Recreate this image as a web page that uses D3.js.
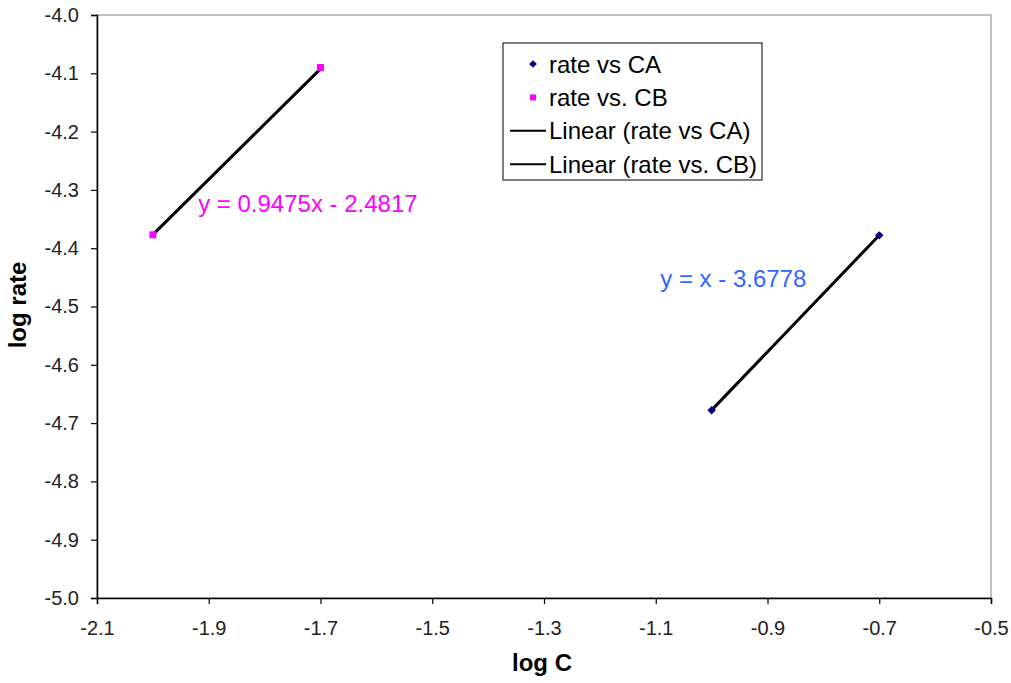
<!DOCTYPE html>
<html>
<head>
<meta charset="utf-8">
<script src="https://cdn.jsdelivr.net/npm/d3@7"></script>
<style>
  body { margin: 0; background: #fff; }
  svg { font-family: 'Liberation Sans', Arial, sans-serif; }
</style>
</head>
<body>
<div id="chart"></div>
<script>
// log C / log rate data
const caX = [-1.0, -0.7];
const caY = [-4.678, -4.378];
const cbX = [-2.0, -1.7];
const cbY = [-4.377, -4.09];

// trendline coefficients shown on the chart
const caFit = { slope: 1, intercept: -3.6778, label: 'y = x - 3.6778' };
const cbFit = { slope: 0.9475, intercept: -2.4817, label: 'y = 0.9475x - 2.4817' };

const xTicks = [-2.1, -1.9, -1.7, -1.5, -1.3, -1.1, -0.9, -0.7, -0.5];
const yTicks = [-5.0, -4.9, -4.8, -4.7, -4.6, -4.5, -4.4, -4.3, -4.2, -4.1, -4.0];

const legendItems = ['rate vs CA', 'rate vs. CB', 'Linear (rate vs CA)', 'Linear (rate vs. CB)'];

const totalWidth = 1011;
const totalHeight = 683;
const margin = { top: 15, right: 20, bottom: 85, left: 97 };
const width = totalWidth - margin.left - margin.right;
const height = totalHeight - margin.top - margin.bottom;

const xScale = d3.scaleLinear().domain([-2.1, -0.5]).range([0, width]);
const yScale = d3.scaleLinear().domain([-5.0, -4.0]).range([height, 0]);

const fmt = (d) => d3.format('.1f')(d).replace('−', '-');

const svg = d3
  .select('#chart')
  .append('svg')
  .attr('width', totalWidth)
  .attr('height', totalHeight)
  .append('g')
  .attr('transform', `translate(${margin.left}, ${margin.top})`);

// plot area border (top and right in gray)
svg
  .append('rect')
  .attr('x', 0)
  .attr('y', 0)
  .attr('width', width)
  .attr('height', height)
  .attr('fill', 'none')
  .attr('stroke', '#808080')
  .attr('stroke-width', 1);

// x axis
svg
  .append('g')
  .attr('transform', `translate(0, ${height})`)
  .call(d3.axisBottom(xScale).tickValues(xTicks).tickSizeOuter(0).tickSize(6))
  .call((g) => g.select('.domain').attr('stroke-width', 1.5))
  .call((g) => g.selectAll('.tick line').attr('stroke-width', 1.2))
  .call((g) =>
    g
      .selectAll('.tick text')
      .attr('font-size', 20)
      .attr('fill', '#222')
      .attr('y', 30)
      .attr('dy', '0.35em')
      .text(fmt)
  );

// y axis
svg
  .append('g')
  .call(d3.axisLeft(yScale).tickValues(yTicks).tickSizeOuter(0).tickSize(6))
  .call((g) => g.select('.domain').attr('stroke-width', 1.5))
  .call((g) => g.selectAll('.tick line').attr('stroke-width', 1.2))
  .call((g) =>
    g
      .selectAll('.tick text')
      .attr('font-size', 20)
      .attr('fill', '#222')
      .attr('x', -18)
      .text(fmt)
  );

// axis titles
svg
  .append('text')
  .attr('x', 542 - margin.left)
  .attr('y', height + 73)
  .attr('text-anchor', 'middle')
  .attr('font-size', 24)
  .attr('font-weight', 'bold')
  .text('log C');

svg
  .append('text')
  .attr('transform', `translate(${26 - margin.left}, ${305 - margin.top}) rotate(-90)`)
  .attr('text-anchor', 'middle')
  .attr('font-size', 24)
  .attr('font-weight', 'bold')
  .text('log rate');

// trendlines
const fitLine = (xs, fit) =>
  d3
    .line()
    .x((d) => xScale(d))
    .y((d) => yScale(fit.slope * d + fit.intercept))(d3.extent(xs));

svg
  .append('path')
  .attr('d', fitLine(caX, caFit))
  .attr('stroke', '#000')
  .attr('stroke-width', 3)
  .attr('fill', 'none');

svg
  .append('path')
  .attr('d', fitLine(cbX, cbFit))
  .attr('stroke', '#000')
  .attr('stroke-width', 3)
  .attr('fill', 'none');

// points
const caPoints = caX.map((x, i) => ({ x, y: caY[i] }));
const cbPoints = cbX.map((x, i) => ({ x, y: cbY[i] }));

svg
  .selectAll('.ca')
  .data(caPoints)
  .join('path')
  .attr('d', d3.symbol(d3.symbolSquare, 36))
  .attr('transform', (d) => `translate(${xScale(d.x)}, ${yScale(d.y)}) rotate(45)`)
  .attr('fill', '#000080');

svg
  .selectAll('.cb')
  .data(cbPoints)
  .join('rect')
  .attr('x', (d) => xScale(d.x) - 3.5)
  .attr('y', (d) => yScale(d.y) - 3.5)
  .attr('width', 7)
  .attr('height', 7)
  .attr('fill', '#ff00ff');

// equation labels
svg
  .append('text')
  .attr('x', xScale(-1.919))
  .attr('y', yScale(-4.338))
  .attr('font-size', 24)
  .attr('fill', '#ff00ff')
  .text(cbFit.label);

svg
  .append('text')
  .attr('x', xScale(-1.092))
  .attr('y', yScale(-4.467))
  .attr('font-size', 24)
  .attr('fill', '#3366ff')
  .text(caFit.label);

// legend
const legend = svg.append('g').attr('transform', `translate(${503 - margin.left}, ${43 - margin.top})`);

legend
  .append('rect')
  .attr('width', 259)
  .attr('height', 137)
  .attr('fill', '#fff')
  .attr('stroke', '#000')
  .attr('stroke-width', 1);

const rowY = (i) => 21 + i * 33.4;

legend
  .selectAll('text')
  .data(legendItems)
  .join('text')
  .attr('x', 46)
  .attr('y', (d, i) => rowY(i))
  .attr('dy', '0.36em')
  .attr('font-size', 24)
  .text((d) => d);

legend
  .append('path')
  .attr('d', d3.symbol(d3.symbolSquare, 30))
  .attr('transform', `translate(30, ${rowY(0)}) rotate(45)`)
  .attr('fill', '#000080');

legend
  .append('rect')
  .attr('x', 27)
  .attr('y', rowY(1) - 3)
  .attr('width', 6)
  .attr('height', 6)
  .attr('fill', '#ff00ff');

[2, 3].forEach((i) => {
  legend
    .append('line')
    .attr('x1', 7)
    .attr('x2', 43)
    .attr('y1', rowY(i))
    .attr('y2', rowY(i))
    .attr('stroke', '#000')
    .attr('stroke-width', 2);
});
</script>
</body>
</html>
